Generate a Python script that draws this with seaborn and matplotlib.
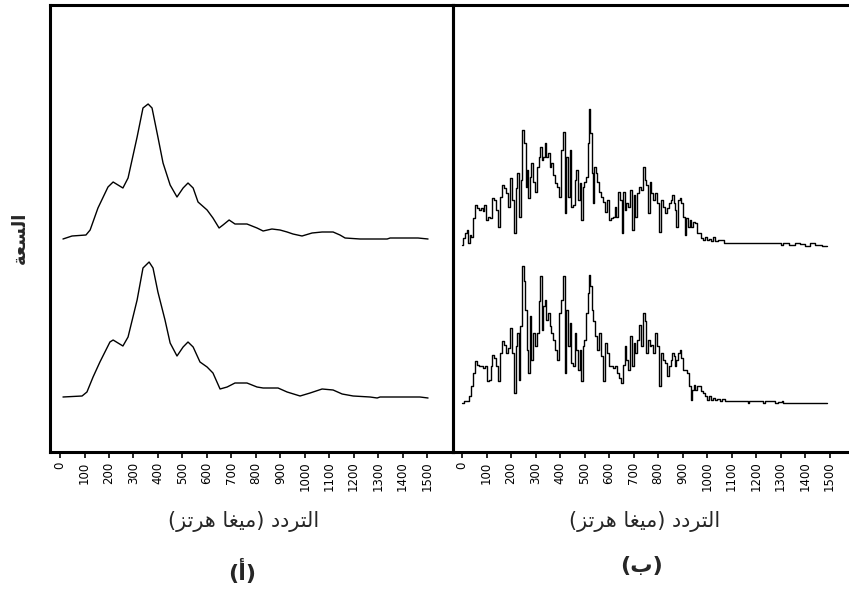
import matplotlib
matplotlib.use("Agg")
import matplotlib.pyplot as plt
import seaborn as sns
import pandas as pd

# ---------------- data ----------------
# Panel (a): smooth spectra (frequency in MHz, amplitude in arbitrary units)
a_top_freq = [12, 49, 106, 123, 155, 196, 217, 257, 278, 315, 339, 360, 376, 400, 421,
              450, 478, 503, 523, 544, 564, 601, 625, 650, 666, 691, 715, 764, 805, 830,
              866, 899, 928, 952, 989, 1030, 1071, 1116, 1144, 1165, 1226, 1337, 1349, 1463, 1504]
a_top_amp = [0, 3, 4, 9, 31, 52, 57, 51, 61, 102, 131, 135, 131, 102, 76,
             54, 42, 51, 56, 51, 37, 29, 21, 11, 14, 19, 15, 15, 11, 8,
             10, 9, 7, 5, 3, 6, 7, 7, 4, 1, 0, 0, 1, 1, 0]

a_bot_freq = [12, 90, 110, 135, 163, 204, 217, 257, 278, 315, 339, 364, 380, 400, 429,
              450, 478, 503, 523, 544, 572, 601, 625, 654, 683, 715, 764, 805, 830, 891,
              928, 981, 1022, 1071, 1116, 1153, 1198, 1267, 1296, 1308, 1471, 1504]
a_bot_amp = [0, 1, 5, 20, 35, 55, 57, 51, 60, 97, 129, 135, 129, 105, 77,
             54, 41, 50, 55, 50, 35, 30, 24, 8, 10, 14, 14, 10, 9, 9,
             5, 1, 4, 8, 7, 3, 1, 0, -1, 0, 0, -1]

# Panel (b): jagged spectra
b_top_freq = [0, 7, 18, 23, 29, 34, 41, 48, 56, 64,
              72, 80, 88, 94, 102, 110, 118, 126, 135, 143,
              154, 159, 167, 175, 184, 192, 200, 208, 215, 222,
              228, 235, 242, 249, 256, 262, 268, 273, 279, 286,
              292, 301, 309, 316, 322, 328, 335, 341, 347, 354,
              360, 369, 377, 385, 393, 401, 409, 415, 423, 428,
              435, 442, 447, 456, 464, 469, 476, 483, 490, 496,
              503, 510, 515, 521, 526, 532, 537, 543, 548, 555,
              564, 573, 581, 589, 597, 602, 611, 619, 627, 632,
              641, 649, 654, 660, 668, 673, 681, 690, 698, 703,
              711, 719, 725, 733, 741, 749, 755, 763, 768, 777,
              785, 793, 801, 809, 815, 823, 831, 839, 847, 855,
              861, 866, 872, 877, 885, 891, 899, 907, 913, 918,
              926, 932, 940, 945, 953, 962, 972, 981, 989, 997,
              1005, 1013, 1021, 1030, 1038, 1047, 1089, 1299, 1304, 1312,
              1353, 1367, 1394, 1408, 1435, 1448, 1489]
b_top_amp = [0, 7, 12, 15, 2, 10, 8, 27, 40, 37,
             35, 37, 34, 40, 25, 28, 27, 47, 45, 35,
             18, 48, 60, 57, 52, 38, 67, 45, 12, 57,
             72, 28, 65, 115, 102, 58, 75, 47, 68, 82,
             63, 53, 78, 88, 98, 85, 88, 102, 88, 92,
             78, 82, 70, 62, 58, 48, 95, 113, 32, 88,
             48, 95, 38, 40, 65, 75, 45, 62, 25, 58,
             63, 68, 102, 136, 112, 72, 42, 78, 72, 63,
             53, 48, 43, 33, 45, 25, 27, 28, 38, 28,
             53, 45, 12, 53, 35, 42, 38, 55, 15, 50,
             28, 52, 58, 55, 78, 65, 60, 32, 63, 52,
             45, 52, 42, 13, 45, 38, 32, 37, 42, 45,
             50, 42, 35, 18, 45, 47, 42, 28, 10, 27,
             18, 25, 18, 23, 22, 12, 12, 7, 5, 8,
             5, 6, 4, 8, 4, 5, 2, 2, 0, 2,
             0, 2, 1, -1, 2, 0, -1]

b_bot_freq = [0, 14, 23, 31, 39, 48, 56, 64, 72, 80,
              88, 97, 105, 113, 121, 126, 135, 143, 151, 159,
              167, 175, 184, 192, 200, 208, 216, 222, 230, 235,
              241, 249, 254, 262, 268, 273, 279, 286, 292, 301,
              309, 316, 322, 328, 335, 341, 347, 355, 360, 369,
              377, 385, 393, 401, 409, 415, 423, 428, 435, 442,
              447, 456, 464, 469, 476, 483, 490, 496, 503, 510,
              515, 521, 526, 532, 540, 548, 556, 564, 573, 581,
              589, 597, 605, 613, 622, 630, 638, 646, 654, 660,
              668, 673, 681, 690, 698, 703, 711, 719, 725, 733,
              741, 749, 755, 763, 768, 777, 785, 793, 801, 809,
              815, 823, 831, 839, 847, 855, 861, 866, 872, 877,
              885, 891, 899, 907, 915, 923, 932, 937, 942, 948,
              956, 964, 972, 981, 989, 997, 1005, 1013, 1021, 1030,
              1038, 1046, 1057, 1068, 1081, 1163, 1167, 1176, 1224, 1231,
              1244, 1272, 1282, 1299, 1310, 1312, 1489]
b_bot_amp = [0, 2, 2, 7, 17, 30, 42, 38, 37, 37,
             35, 37, 22, 23, 37, 48, 45, 37, 22, 50,
             62, 58, 50, 55, 75, 50, 10, 57, 70, 23,
             77, 137, 122, 93, 53, 30, 87, 43, 70, 57,
             70, 102, 127, 73, 97, 103, 83, 90, 77, 70,
             63, 53, 43, 90, 103, 127, 30, 93, 57, 80,
             40, 37, 70, 53, 33, 53, 22, 57, 63, 90,
             110, 128, 117, 93, 82, 67, 53, 70, 47, 22,
             60, 50, 37, 37, 35, 37, 30, 25, 20, 38,
             57, 43, 33, 67, 37, 60, 50, 63, 78, 57,
             90, 82, 50, 63, 57, 58, 50, 70, 57, 17,
             50, 43, 40, 27, 37, 43, 50, 47, 37, 43,
             50, 53, 45, 33, 33, 30, 17, 3, 13, 18,
             13, 17, 17, 12, 10, 7, 3, 7, 3, 5,
             3, 4, 2, 4, 2, 2, 0, 2, 2, 0,
             2, 2, 0, 1, 2, 0, 0]

x_ticks = [0, 100, 200, 300, 400, 500, 600, 700, 800, 900, 1000, 1100, 1200, 1300, 1400, 1500]
x_tick_labels = [str(v) for v in x_ticks]

y_label = "السعة"
x_label = "التردد (ميغا هرتز)"
panel_labels = ["(أ)", "(ب)"]

# vertical offsets of the stacked traces (layout)
A_OFFSETS = (213, 55)
B_OFFSETS = (207, 49)

# ------------- Arabic shaping + right-to-left ordering -------------
# (matplotlib lays text out left to right without contextual shaping)
FORMS = {
    'ا': ('\uFE8D', '\uFE8E', None, None),
    'أ': ('\uFE83', '\uFE84', None, None),
    'ب': ('\uFE8F', '\uFE90', '\uFE91', '\uFE92'),
    'ة': ('\uFE93', '\uFE94', None, None),
    'ت': ('\uFE95', '\uFE96', '\uFE97', '\uFE98'),
    'د': ('\uFEA9', '\uFEAA', None, None),
    'ر': ('\uFEAD', '\uFEAE', None, None),
    'ز': ('\uFEAF', '\uFEB0', None, None),
    'س': ('\uFEB1', '\uFEB2', '\uFEB3', '\uFEB4'),
    'ع': ('\uFEC9', '\uFECA', '\uFECB', '\uFECC'),
    'غ': ('\uFECD', '\uFECE', '\uFECF', '\uFED0'),
    'ل': ('\uFEDD', '\uFEDE', '\uFEDF', '\uFEE0'),
    'م': ('\uFEE1', '\uFEE2', '\uFEE3', '\uFEE4'),
    'ه': ('\uFEE9', '\uFEEA', '\uFEEB', '\uFEEC'),
    'ي': ('\uFEF1', '\uFEF2', '\uFEF3', '\uFEF4'),
}
MIRROR = {'(': ')', ')': '('}


def shape(text):
    logical = []
    for i, ch in enumerate(text):
        if ch not in FORMS:
            logical.append(ch)
            continue
        iso, fin, ini, med = FORMS[ch]
        jp = i > 0 and text[i - 1] in FORMS and FORMS[text[i - 1]][2] is not None
        jn = ini is not None and i + 1 < len(text) and text[i + 1] in FORMS
        if jp and jn:
            logical.append(med)
        elif jp:
            logical.append(fin)
        elif jn:
            logical.append(ini)
        else:
            logical.append(iso)
    return ''.join(MIRROR.get(c, c) for c in reversed(logical))


# ---------------- figure ----------------
sns.set_style("white")
plt.rcParams['font.family'] = ['DejaVu Sans']

W, H = 849, 590
fig = plt.figure(figsize=(W / 100, H / 100), dpi=100)
ax_a = fig.add_axes([50 / W, (H - 452) / H, 403 / W, 447 / H])
ax_b = fig.add_axes([453 / W, (H - 452) / H, 396 / W, 447 / H])


def trace(ax, freq, amp, offset, **kw):
    df = pd.DataFrame({'freq': freq, 'amp': [v + offset for v in amp]})
    sns.lineplot(data=df, x='freq', y='amp', ax=ax, color='black', lw=1.0,
                 estimator=None, sort=False, **kw)


trace(ax_a, a_top_freq, a_top_amp, A_OFFSETS[0])
trace(ax_a, a_bot_freq, a_bot_amp, A_OFFSETS[1])
trace(ax_b, b_top_freq, b_top_amp, B_OFFSETS[0], drawstyle='steps-mid')
trace(ax_b, b_bot_freq, b_bot_amp, B_OFFSETS[1], drawstyle='steps-mid')

ax_a.set_xlim(-41, 1606)
ax_b.set_xlim(-37, 1579)
for ax in (ax_a, ax_b):
    ax.set_ylim(0, 447)
    ax.set_yticks([])
    ax.set_xticks(x_ticks)
    ax.set_xticklabels(x_tick_labels, rotation=90, fontsize=8.5)
    ax.tick_params(axis='x', direction='out', length=4, width=1.2, pad=3, colors='black',
                   bottom=True)
    ax.set_xlabel('')
    ax.set_ylabel('')
    for s in ax.spines.values():
        s.set_linewidth(2.2)
        s.set_color('black')
    ax.patch.set_alpha(0)
ax_b.spines['right'].set_visible(False)

fig.text(20 / W, 1 - 238 / H, shape(y_label), rotation=90, ha='center', va='center',
         fontsize=13, fontweight='bold')
fig.text(244 / W, 1 - 522 / H, shape(x_label), ha='center', va='center', fontsize=15)
fig.text(645 / W, 1 - 522 / H, shape(x_label), ha='center', va='center', fontsize=15)
fig.text(242 / W, 1 - 571 / H, shape(panel_labels[0]), ha='center', va='center',
         fontsize=16, fontweight='bold')
fig.text(641 / W, 1 - 566 / H, shape(panel_labels[1]), ha='center', va='center',
         fontsize=16, fontweight='bold')

fig.savefig('out.png', dpi=100, facecolor='white')
